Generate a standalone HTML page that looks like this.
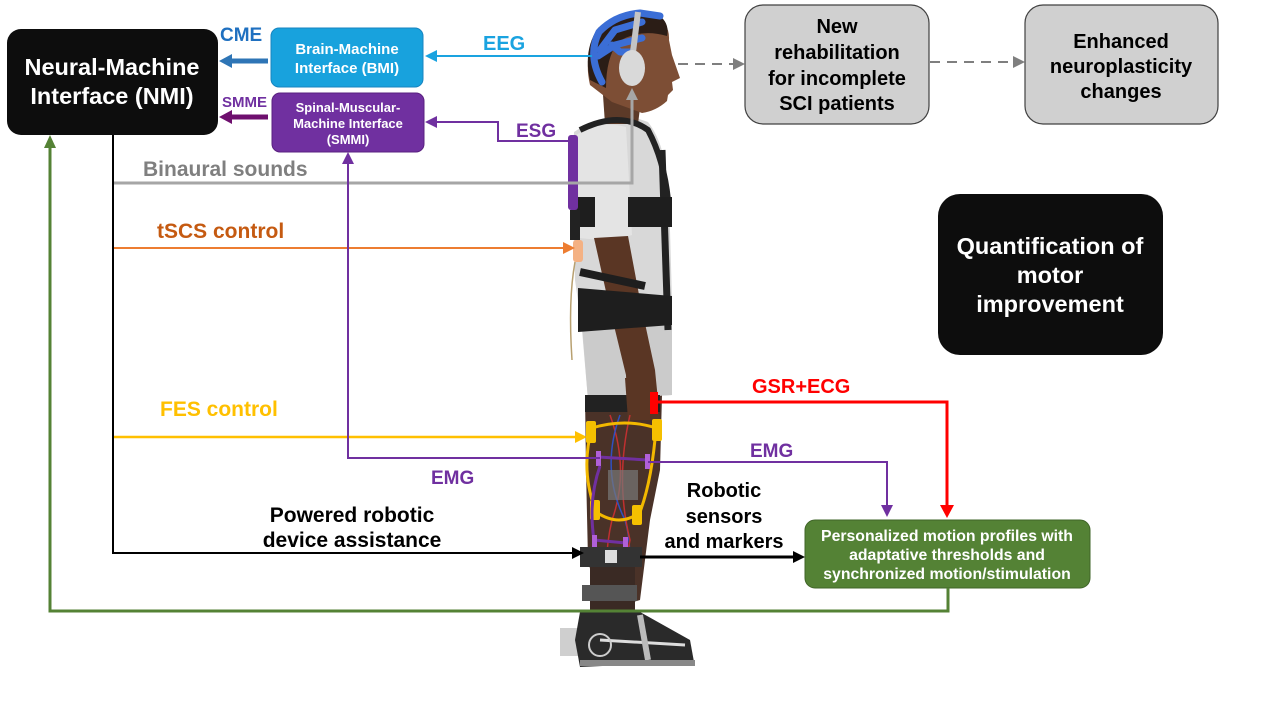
<!DOCTYPE html>
<html><head><meta charset="utf-8"><style>
html,body{margin:0;padding:0;background:#fff;}
svg{display:block;}
text{font-family:"Liberation Sans",Arial,sans-serif;font-weight:bold;}
</style></head><body>
<svg width="1280" height="720" viewBox="0 0 1280 720" xmlns="http://www.w3.org/2000/svg">
<rect width="1280" height="720" fill="#fff"/>

<!-- ===== PERSON ===== -->
<g>
  <path d="M585 395 L662 395 L660 470 L650 520 L640 600 L600 612 L588 560 L586 470 Z" fill="#4a3228"/>
  <path d="M574 132 Q598 116 630 116 L648 122 Q662 140 666 170 L670 230 L672 300 L672 395 L588 400 L582 330 L575 280 L572 180 Z" fill="#d8d8d8"/>
  <path d="M580 300 L672 300 L672 395 L588 400 Z" fill="#cbcbcb"/>
  <path d="M603 95 L640 108 L638 124 L605 124 Z" fill="#5c3a28"/>
  <path d="M590 85 Q583 55 598 30 Q620 8 652 13 Q670 22 669 40 L672 55 L680 78 L672 82 L673 90 L668 95 L667 101 Q656 111 642 113 L612 102 Z" fill="#7d4e35"/>
  <path d="M590 80 Q583 50 598 28 Q622 6 657 14 Q670 22 667 36 Q640 28 618 42 Q606 58 606 88 Z" fill="#2b1d16"/>
  <g stroke="#3b6ed6" stroke-width="7" fill="none" stroke-linejoin="round" stroke-linecap="round">
    <path d="M602 82 Q587 55 599 32 Q615 15 640 13 L660 16"/>
    <path d="M600 50 L615 30 L642 22"/>
    <path d="M598 56 L615 45 L642 38"/>
    <path d="M612 45 L620 52 L632 52"/>
  </g>
  <line x1="638" y1="12" x2="633" y2="52" stroke="#c4c4c4" stroke-width="6"/>
  <ellipse cx="632" cy="68" rx="13" ry="18" fill="#d9d9d9"/>
  <path d="M576 135 Q600 120 626 127 L632 235 Q610 242 580 238 Z" fill="#e4e4e4"/>
  <path d="M594 238 L628 236 L640 300 L655 370 L660 420 L628 420 L626 375 L609 305 Z" fill="#5a3624"/>
  <path d="M580 130 Q620 110 648 130 Q664 160 668 200" stroke="#222" stroke-width="6" fill="none"/>
  <line x1="662" y1="150" x2="668" y2="330" stroke="#222" stroke-width="7"/>
  <rect x="628" y="197" width="44" height="30" fill="#1e1e1e"/>
  <rect x="575" y="197" width="20" height="30" fill="#1e1e1e"/>
  <path d="M578 288 L672 296 L672 325 L578 332 Z" fill="#1e1e1e"/>
  <path d="M580 272 L645 286" stroke="#1e1e1e" stroke-width="8"/>
  <rect x="568" y="135" width="10" height="75" rx="3" fill="#7030a0"/>
  <rect x="570" y="210" width="10" height="30" fill="#222"/>
  <rect x="573" y="240" width="10" height="22" rx="3" fill="#f4b183"/>
  <path d="M575 262 Q568 300 572 360" stroke="#b8a070" stroke-width="1.5" fill="none"/>
  <rect x="585" y="395" width="75" height="17" fill="#222"/>
  <path d="M625 378 L655 378 L658 418 L628 420 Z" fill="#5a3624"/>
  <g stroke-width="1.5" fill="none">
    <path d="M610 415 Q630 470 612 520 Q600 570 615 620" stroke="#c03030"/>
    <path d="M620 415 Q600 470 625 520 Q640 570 605 620" stroke="#3050c0"/>
    <path d="M630 415 Q615 480 630 540 Q620 590 625 620" stroke="#c03030"/>
  </g>
  <rect x="608" y="470" width="30" height="30" fill="#777" opacity="0.7"/>
  <g stroke="#f2b800" stroke-width="3" fill="none">
    <path d="M592 428 Q625 418 656 428"/>
    <path d="M596 512 Q620 528 640 512"/>
    <path d="M592 428 Q580 470 596 512"/>
    <path d="M656 428 Q652 480 640 512"/>
  </g>
  <g fill="#f5c000">
    <rect x="586" y="421" width="10" height="22" rx="2"/>
    <rect x="652" y="419" width="10" height="22" rx="2"/>
    <rect x="590" y="500" width="10" height="20" rx="2"/>
    <rect x="632" y="505" width="10" height="20" rx="2"/>
  </g>
  <path d="M598 457 L648 460" stroke="#7030a0" stroke-width="3"/>
  <rect x="596" y="451" width="5" height="15" fill="#b060d8"/>
  <rect x="645" y="454" width="5" height="15" fill="#b060d8"/>
  <path d="M600 466 Q588 500 594 540 L626 543" stroke="#7030a0" stroke-width="3" fill="none"/>
  <rect x="592" y="535" width="5" height="14" fill="#b060d8"/>
  <rect x="623" y="537" width="5" height="14" fill="#b060d8"/>
  <rect x="580" y="547" width="62" height="20" fill="#333"/>
  <rect x="605" y="550" width="12" height="13" fill="#ddd"/>
  <rect x="590" y="567" width="45" height="50" fill="#3a2a24"/>
  <rect x="582" y="585" width="55" height="16" fill="#555"/>
  <rect x="560" y="628" width="25" height="28" fill="#cfcfcf"/>
  <path d="M580 612 L640 612 L690 640 L694 662 L580 667 L575 640 Z" fill="#2a2a2a"/>
  <path d="M600 640 L685 645" stroke="#ddd" stroke-width="3"/>
  <path d="M640 615 L648 660" stroke="#bbb" stroke-width="6"/>
  <circle cx="600" cy="645" r="11" fill="none" stroke="#ccc" stroke-width="2"/>
  <rect x="580" y="660" width="115" height="6" fill="#888"/>
</g>

<!-- ===== BOXES ===== -->
<rect x="7" y="29" width="211" height="106" rx="14" fill="#0d0d0d"/>
<text x="112" y="75" fill="#fff" font-size="23.5" text-anchor="middle">Neural-Machine</text>
<text x="112" y="104" fill="#fff" font-size="23.5" text-anchor="middle">Interface (NMI)</text>

<rect x="271" y="28" width="152" height="59" rx="8" fill="#18a2dd" stroke="#1784c0" stroke-width="1"/>
<text x="347" y="54" fill="#fff" font-size="15" text-anchor="middle">Brain-Machine</text>
<text x="347" y="73" fill="#fff" font-size="15" text-anchor="middle">Interface (BMI)</text>

<rect x="272" y="93" width="152" height="59" rx="8" fill="#7030a0" stroke="#5a2080" stroke-width="1"/>
<text x="348" y="112" fill="#fff" font-size="13" text-anchor="middle">Spinal-Muscular-</text>
<text x="348" y="128" fill="#fff" font-size="13" text-anchor="middle">Machine Interface</text>
<text x="348" y="144" fill="#fff" font-size="13" text-anchor="middle">(SMMI)</text>

<rect x="745" y="5" width="184" height="119" rx="18" fill="#d0d0d0" stroke="#404040" stroke-width="1.2"/>
<text x="837" y="33" fill="#000" font-size="20" text-anchor="middle">New</text>
<text x="837" y="59" fill="#000" font-size="20" text-anchor="middle">rehabilitation</text>
<text x="837" y="85" fill="#000" font-size="20" text-anchor="middle">for incomplete</text>
<text x="837" y="110" fill="#000" font-size="20" text-anchor="middle">SCI patients</text>

<rect x="1025" y="5" width="193" height="119" rx="18" fill="#d0d0d0" stroke="#404040" stroke-width="1.2"/>
<text x="1121" y="48" fill="#000" font-size="20" text-anchor="middle">Enhanced</text>
<text x="1121" y="73" fill="#000" font-size="20" text-anchor="middle">neuroplasticity</text>
<text x="1121" y="98" fill="#000" font-size="20" text-anchor="middle">changes</text>

<rect x="938" y="194" width="225" height="161" rx="22" fill="#0d0d0d"/>
<text x="1050" y="254" fill="#fff" font-size="23.5" text-anchor="middle">Quantification of</text>
<text x="1050" y="283" fill="#fff" font-size="23.5" text-anchor="middle">motor</text>
<text x="1050" y="312" fill="#fff" font-size="23.5" text-anchor="middle">improvement</text>

<rect x="805" y="520" width="285" height="68" rx="10" fill="#548235" stroke="#3f6428" stroke-width="1"/>
<text x="947" y="541" fill="#fff" font-size="15.8" text-anchor="middle">Personalized motion profiles with</text>
<text x="947" y="560" fill="#fff" font-size="15.8" text-anchor="middle">adaptative thresholds and</text>
<text x="947" y="579" fill="#fff" font-size="15.8" text-anchor="middle">synchronized motion/stimulation</text>

<!-- ===== CONNECTORS ===== -->
<line x1="230" y1="61" x2="268" y2="61" stroke="#2e75b6" stroke-width="5"/>
<polygon points="219,61 232,54 232,68" fill="#2e75b6"/>
<text x="220" y="41" fill="#1f70c0" font-size="19">CME</text>

<line x1="230" y1="117" x2="268" y2="117" stroke="#6e0f6e" stroke-width="5"/>
<polygon points="219,117 232,110 232,124" fill="#6e0f6e"/>
<text x="222" y="107" fill="#7030a0" font-size="15">SMME</text>

<line x1="435" y1="56" x2="592" y2="56" stroke="#1aa3e0" stroke-width="2"/>
<polygon points="425,56 437,50 437,62" fill="#1aa3e0"/>
<text x="483" y="50" fill="#1aa3e0" font-size="20">EEG</text>

<polyline points="573,141 498,141 498,122 435,122" stroke="#7030a0" stroke-width="2" fill="none"/>
<polygon points="425,122 437,116 437,128" fill="#7030a0"/>
<text x="516" y="137" fill="#7030a0" font-size="19">ESG</text>

<polyline points="113,183 632,183 632,99" stroke="#a6a6a6" stroke-width="3" fill="none"/>
<polygon points="632,88 626,100 638,100" fill="#a6a6a6"/>
<text x="143" y="176" fill="#7f7f7f" font-size="21">Binaural sounds</text>

<line x1="113" y1="248" x2="564" y2="248" stroke="#ed7d31" stroke-width="2"/>
<polygon points="575,248 563,242 563,254" fill="#ed7d31"/>
<text x="157" y="238" fill="#c55a11" font-size="21">tSCS control</text>

<line x1="113" y1="437" x2="576" y2="437" stroke="#ffc000" stroke-width="2.5"/>
<polygon points="587,437 575,431 575,443" fill="#ffc000"/>
<text x="160" y="416" fill="#ffc000" font-size="21">FES control</text>

<polyline points="113,135 113,553 573,553" stroke="#000" stroke-width="2" fill="none"/>
<polygon points="584,553 572,547 572,559" fill="#000"/>
<text x="352" y="522" fill="#000" font-size="21" text-anchor="middle">Powered robotic</text>
<text x="352" y="547" fill="#000" font-size="21" text-anchor="middle">device assistance</text>

<polyline points="348,163 348,458 600,458" stroke="#7030a0" stroke-width="2" fill="none"/>
<polygon points="348,152 342,164 354,164" fill="#7030a0"/>
<text x="431" y="484" fill="#7030a0" font-size="19">EMG</text>

<polyline points="648,462 887,462 887,506" stroke="#7030a0" stroke-width="2" fill="none"/>
<polygon points="887,517 881,505 893,505" fill="#7030a0"/>
<text x="750" y="457" fill="#7030a0" font-size="19">EMG</text>

<polyline points="656,402 947,402 947,506" stroke="#ff0000" stroke-width="3" fill="none"/>
<polygon points="947,518 940,505 954,505" fill="#ff0000"/>
<rect x="650" y="392" width="8" height="22" fill="#ff0000"/>
<text x="752" y="393" fill="#ff0000" font-size="20">GSR+ECG</text>

<line x1="640" y1="557" x2="794" y2="557" stroke="#000" stroke-width="3"/>
<polygon points="805,557 793,551 793,563" fill="#000"/>
<text x="724" y="497" fill="#000" font-size="20" text-anchor="middle">Robotic</text>
<text x="724" y="523" fill="#000" font-size="20" text-anchor="middle">sensors</text>
<text x="724" y="548" fill="#000" font-size="20" text-anchor="middle">and markers</text>

<polyline points="948,588 948,611 50,611 50,146" stroke="#548235" stroke-width="3" fill="none"/>
<polygon points="50,135 44,148 56,148" fill="#548235"/>

<line x1="678" y1="64" x2="734" y2="64" stroke="#7f7f7f" stroke-width="2" stroke-dasharray="10,7"/>
<polygon points="745,64 733,58 733,70" fill="#7f7f7f"/>
<line x1="930" y1="62" x2="1014" y2="62" stroke="#7f7f7f" stroke-width="2" stroke-dasharray="10,7"/>
<polygon points="1025,62 1013,56 1013,68" fill="#7f7f7f"/>
</svg>
</body></html>
